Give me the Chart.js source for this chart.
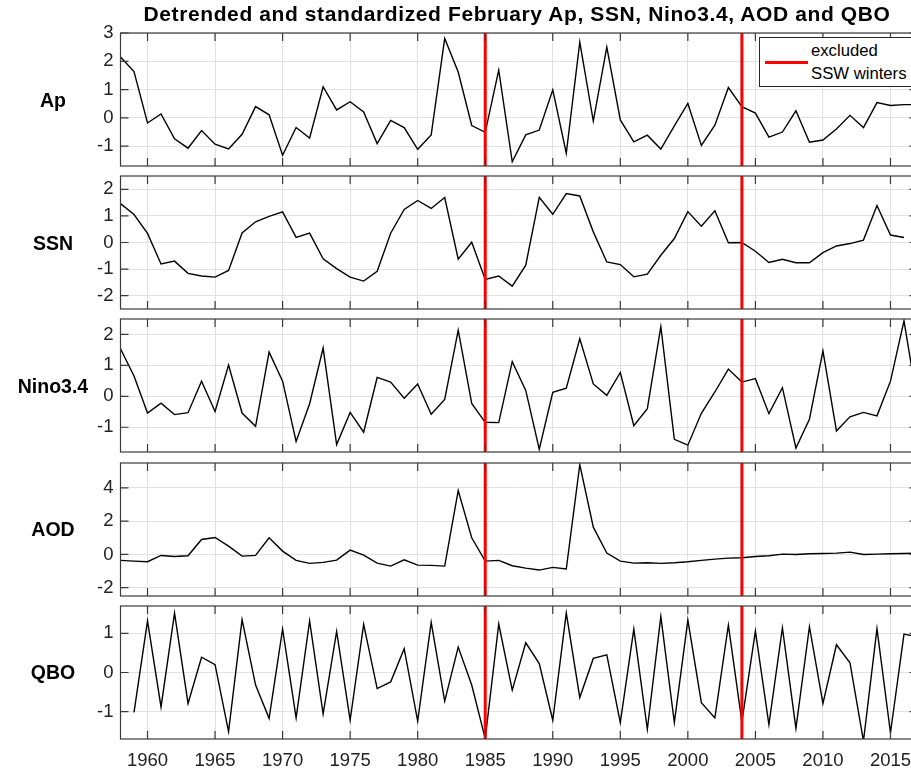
<!DOCTYPE html>
<html>
<head>
<meta charset="utf-8">
<script src="https://cdn.jsdelivr.net/npm/chart.js@4.4.1/dist/chart.umd.min.js"></script>
<style>
  html, body { margin: 0; padding: 0; overflow: hidden; background: #fff; width: 911px; height: 773px; }
  #wrap { position: relative; width: 911px; height: 773px; font-family: "Liberation Sans", Arial, Helvetica, sans-serif; color: #000; }
  canvas { position: absolute; left: 0; }
  .title { position: absolute; top: 4px; left: 517px; transform: translateX(-50%); white-space: nowrap; font-weight: bold; font-size: 21px; letter-spacing: 0.6px; line-height: 20px; }
  .pname { position: absolute; left: 0; width: 106px; text-align: center; font-weight: bold; font-size: 19.5px; line-height: 20px; }
  .legend { position: absolute; left: 759px; top: 37px; width: 158px; height: 48px; border: 1px solid #262626; background: #fff; }
  .legend .swatch { position: absolute; left: 5px; top: 23px; width: 43px; height: 3px; background: #ff0000; }
  .legend .txt { position: absolute; left: 51px; font-size: 16.7px; line-height: 18px; white-space: nowrap; }
</style>
</head>
<body>
<div id="wrap">
  <div class="title">Detrended and standardized February Ap, SSN, Nino3.4, AOD and QBO</div>
  <div class="legend">
    <div class="swatch"></div>
    <div class="txt" style="top:4px">excluded</div>
    <div class="txt" style="top:27px">SSW winters</div>
  </div>
</div>
<script>
const years = [1958, 1959, 1960, 1961, 1962, 1963, 1964, 1965, 1966, 1967,
  1968, 1969, 1970, 1971, 1972, 1973, 1974, 1975, 1976, 1977,
  1978, 1979, 1980, 1981, 1982, 1983, 1984, 1985, 1986, 1987,
  1988, 1989, 1990, 1991, 1992, 1993, 1994, 1995, 1996, 1997,
  1998, 1999, 2000, 2001, 2002, 2003, 2004, 2005, 2006, 2007,
  2008, 2009, 2010, 2011, 2012, 2013, 2014, 2015, 2016, 2017];

const apValues = [2.15, 1.64, -0.18, 0.14, -0.74, -1.07, -0.45, -0.93, -1.10, -0.58,
  0.40, 0.11, -1.32, -0.34, -0.71, 1.10, 0.28, 0.57, 0.21, -0.91,
  -0.09, -0.34, -1.11, -0.60, 2.81, 1.62, -0.27, -0.51, 1.69, -1.55,
  -0.60, -0.43, 0.99, -1.25, 2.68, -0.11, 2.50, -0.07, -0.85, -0.61,
  -1.10, -0.28, 0.51, -0.97, -0.26, 1.07, 0.40, 0.17, -0.68, -0.50,
  0.25, -0.86, -0.78, -0.39, 0.09, -0.34, 0.54, 0.44, 0.47, 0.47];

const ssnValues = [1.46, 1.05, 0.34, -0.81, -0.70, -1.16, -1.26, -1.30, -1.05, 0.36,
  0.78, 0.98, 1.15, 0.19, 0.35, -0.61, -0.98, -1.30, -1.45, -1.08,
  0.35, 1.24, 1.58, 1.28, 1.69, -0.63, 0.01, -1.39, -1.26, -1.64,
  -0.85, 1.70, 1.06, 1.84, 1.75, 0.40, -0.73, -0.83, -1.29, -1.19,
  -0.48, 0.15, 1.16, 0.61, 1.19, -0.01, 0.00, -0.33, -0.75, -0.63,
  -0.76, -0.76, -0.38, -0.13, -0.04, 0.09, 1.39, 0.28, 0.19, null];

const ninoValues = [1.54, 0.66, -0.54, -0.22, -0.59, -0.53, 0.49, -0.49, 1.01, -0.54,
  -0.97, 1.43, 0.49, -1.46, -0.24, 1.56, -1.56, -0.52, -1.16, 0.61,
  0.46, -0.06, 0.40, -0.58, -0.10, 2.14, -0.23, -0.84, -0.85, 1.12,
  0.19, -1.71, 0.13, 0.26, 1.86, 0.40, 0.03, 0.77, -0.95, -0.40,
  2.25, -1.39, -1.58, -0.55, 0.14, 0.88, 0.46, 0.57, -0.56, 0.28,
  -1.67, -0.74, 1.47, -1.12, -0.66, -0.52, -0.63, 0.49, 2.44, -0.20];

const aodValues = [-0.36, -0.40, -0.44, -0.06, -0.12, -0.08, 0.90, 1.02, 0.50, -0.10,
  -0.06, 1.00, 0.20, -0.36, -0.54, -0.48, -0.34, 0.26, -0.04, -0.52,
  -0.70, -0.32, -0.64, -0.66, -0.70, 3.84, 1.00, -0.40, -0.36, -0.68,
  -0.82, -0.94, -0.78, -0.88, 5.40, 1.64, 0.08, -0.40, -0.52, -0.50,
  -0.54, -0.50, -0.44, -0.36, -0.28, -0.22, -0.20, -0.12, -0.08, 0.02,
  0.00, 0.04, 0.06, 0.08, 0.14, 0.00, 0.02, 0.04, 0.06, 0.07];

const qboValues = [null, -1.02, 1.32, -0.88, 1.52, -0.79, 0.39, 0.20, -1.51, 1.35,
  -0.32, -1.17, 1.11, -1.16, 1.32, -1.06, 1.05, -1.22, 1.23, -0.41,
  -0.24, 0.61, -1.24, 1.28, -0.73, 0.65, -0.32, -1.69, 1.24, -0.45,
  0.76, 0.23, -1.22, 1.52, -0.64, 0.36, 0.45, -1.28, 1.11, -1.45,
  1.43, -1.28, 1.34, -0.77, -1.16, 1.21, -1.26, 1.06, -1.33, 1.14,
  -1.43, 1.17, -0.79, 0.71, 0.25, -1.75, 1.12, -1.54, 0.98, 0.91];

const xTicks = [1960, 1965, 1970, 1975, 1980, 1985, 1990, 1995, 2000, 2005, 2010, 2015];
const sswYears = [1985, 2004];

const panelNames = ["Ap", "SSN", "Nino3.4", "AOD", "QBO"];
const panelValues = [apValues, ssnValues, ninoValues, aodValues, qboValues];
const panelTicks = [[-1, 0, 1, 2, 3], [-2, -1, 0, 1, 2], [-1, 0, 1, 2], [-2, 0, 2, 4], [-1, 0, 1]];
const panelLimits = [[-1.7, 3], [-2.5, 2.5], [-1.8, 2.5], [-2.5, 5.5], [-1.7, 1.7]];

// layout (pixels)
const canvasW = 930;
const axisLeft = 120.5;
const axisRight = 917.5;
const panelH = 133;
const panelStep = 143.2;
const firstTop = 33;
const pad = 22;
const xAxisH = 40;

const tickFont = { family: "'Liberation Sans', Arial, Helvetica, sans-serif", size: 18.5 };

// box round the axes plus inward tick marks, like the original figure
const boxTicks = {
  id: "boxTicks",
  afterDraw(chart) {
    const { ctx, chartArea: a, scales } = chart;
    ctx.save();
    ctx.strokeStyle = "#3a3a3a";
    ctx.lineWidth = 1.2;
    ctx.beginPath();
    scales.x.ticks.forEach(t => {
      const px = scales.x.getPixelForValue(t.value);
      ctx.moveTo(px, a.top); ctx.lineTo(px, a.top + 8);
      ctx.moveTo(px, a.bottom); ctx.lineTo(px, a.bottom - 8);
    });
    scales.y.ticks.forEach(t => {
      const py = scales.y.getPixelForValue(t.value);
      ctx.moveTo(a.left, py); ctx.lineTo(a.left + 8, py);
      ctx.moveTo(a.right, py); ctx.lineTo(a.right - 8, py);
    });
    ctx.stroke();
    ctx.strokeRect(a.left, a.top, a.right - a.left, a.bottom - a.top);
    ctx.restore();
  }
};

function createPanel(i) {
  const wrap = document.getElementById("wrap");
  const isLast = i === panelNames.length - 1;
  const top = firstTop + i * panelStep;
  const bottomSpace = isLast ? xAxisH : pad;
  const h = pad + panelH + bottomSpace;

  const canvas = document.createElement("canvas");
  canvas.width = canvasW;
  canvas.height = h;
  canvas.style.top = (top - pad) + "px";
  canvas.style.width = canvasW + "px";
  canvas.style.height = h + "px";
  wrap.insertBefore(canvas, wrap.firstChild);

  const label = document.createElement("div");
  label.className = "pname";
  label.textContent = panelNames[i];
  label.style.top = (top + panelH / 2 - 10) + "px";
  wrap.appendChild(label);

  const [ymin, ymax] = panelLimits[i];
  const vals = panelValues[i];
  const points = years.map((yr, k) => ({ x: yr, y: vals[k] }));

  const sswSets = sswYears.map(yr => ({
    data: [{ x: yr, y: ymin }, { x: yr, y: ymax }],
    borderColor: "#ff0000",
    borderWidth: 3,
    pointRadius: 0
  }));

  return new Chart(canvas.getContext("2d"), {
    type: "line",
    data: {
      datasets: [...sswSets, {
        data: points,
        borderColor: "#000000",
        borderWidth: 1.4,
        pointRadius: 0,
        tension: 0,
        spanGaps: false
      }]
    },
    options: {
      responsive: false,
      animation: false,
      events: [],
      layout: { padding: { top: pad, right: canvasW - axisRight, bottom: isLast ? 0 : pad, left: 0 } },
      plugins: { legend: { display: false }, tooltip: { enabled: false }, title: { display: false } },
      scales: {
        x: {
          type: "linear",
          min: 1958,
          max: 2017,
          afterBuildTicks: s => { s.ticks = xTicks.map(v => ({ value: v })); },
          afterFit: s => { s.height = isLast ? xAxisH : 0; },
          grid: { color: "#e2e2e2", lineWidth: 1, drawTicks: false },
          border: { display: false },
          ticks: {
            display: isLast,
            padding: 11,
            color: "#222",
            font: tickFont,
            maxRotation: 0,
            autoSkip: false,
            callback: v => String(v)
          }
        },
        y: {
          min: ymin,
          max: ymax,
          afterBuildTicks: s => { s.ticks = panelTicks[i].map(v => ({ value: v })); },
          afterFit: s => { s.width = axisLeft; },
          grid: { color: "#e2e2e2", lineWidth: 1, drawTicks: false },
          border: { display: false },
          ticks: {
            padding: 7,
            color: "#222",
            font: tickFont,
            autoSkip: false,
            callback: v => String(v)
          }
        }
      }
    },
    plugins: [boxTicks]
  });
}

panelNames.forEach((n, i) => createPanel(i));
</script>
</body>
</html>
